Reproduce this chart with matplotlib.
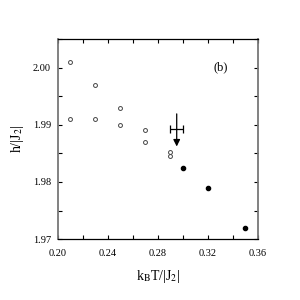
import matplotlib
matplotlib.use("Agg")
import matplotlib.pyplot as plt
from matplotlib.ticker import MultipleLocator

plt.rcParams['font.family'] = ['Liberation Serif', 'DejaVu Serif']
plt.rcParams['mathtext.fontset'] = 'stix'

open_x = [0.21, 0.21, 0.23, 0.23, 0.25, 0.25, 0.27, 0.27, 0.29, 0.29]
open_y = [2.001, 1.991, 1.997, 1.991, 1.993, 1.990, 1.989, 1.987, 1.9852, 1.9846]
filled_x = [0.30, 0.32, 0.35]
filled_y = [1.9825, 1.979, 1.972]
err_x = 0.295
err_y = 1.9893
err_dx = 0.005
arrow_top = 1.9919
arrow_bottom = 1.9862

fig = plt.figure(figsize=(3, 3), dpi=100)
ax = fig.add_axes([0.193, 0.203, 0.667, 0.667])

ax.plot(open_x, open_y, 'o', ms=2.8, mfc='white', mec='#444444', mew=0.7, ls='none')
ax.plot(filled_x, filled_y, 'o', ms=3.0, color='black', ls='none')
ax.errorbar([err_x], [err_y], xerr=[err_dx], fmt='none', ecolor='black', elinewidth=0.9, capsize=3, capthick=0.9)
ax.annotate('', xy=(err_x, arrow_bottom), xytext=(err_x, arrow_top),
            arrowprops=dict(arrowstyle='-|>', color='black', lw=0.9, mutation_scale=10, shrinkA=0, shrinkB=0))

ax.text(0.3305, 2.0, '(b)', fontsize=9, ha='center', va='center')

ax.set_xlim(0.20, 0.36)
ax.set_ylim(1.97, 2.005)
ax.xaxis.set_minor_locator(MultipleLocator(0.02))
ax.yaxis.set_minor_locator(MultipleLocator(0.005))
ax.set_xticks([0.20, 0.24, 0.28, 0.32, 0.36])
ax.set_xticklabels(['0.20', '0.24', '0.28', '0.32', '0.36'])
ax.set_yticks([1.97, 1.98, 1.99, 2.00])
ax.set_yticklabels(['1.97', '1.98', '1.99', '2.00'])
ax.tick_params(which='both', direction='in', top=True, right=True, labelsize=7.5, width=0.8)
ax.tick_params(which='major', length=3)
ax.tick_params(which='minor', length=3)
ax.tick_params(axis='x', pad=7)
ax.tick_params(axis='y', pad=5)

for s in ['left', 'right']:
    ax.spines[s].set_color('#777777')
    ax.spines[s].set_linewidth(1.3)
for s in ['top', 'bottom']:
    ax.spines[s].set_color('black')
    ax.spines[s].set_linewidth(0.9)

ax.set_xlabel(r'k$_{\rm B}$T/|J$_2$|', fontsize=10, labelpad=7)
ax.set_ylabel(r'h/|J$_2$|', fontsize=10, labelpad=5)

fig.savefig('out.png', dpi=100)
